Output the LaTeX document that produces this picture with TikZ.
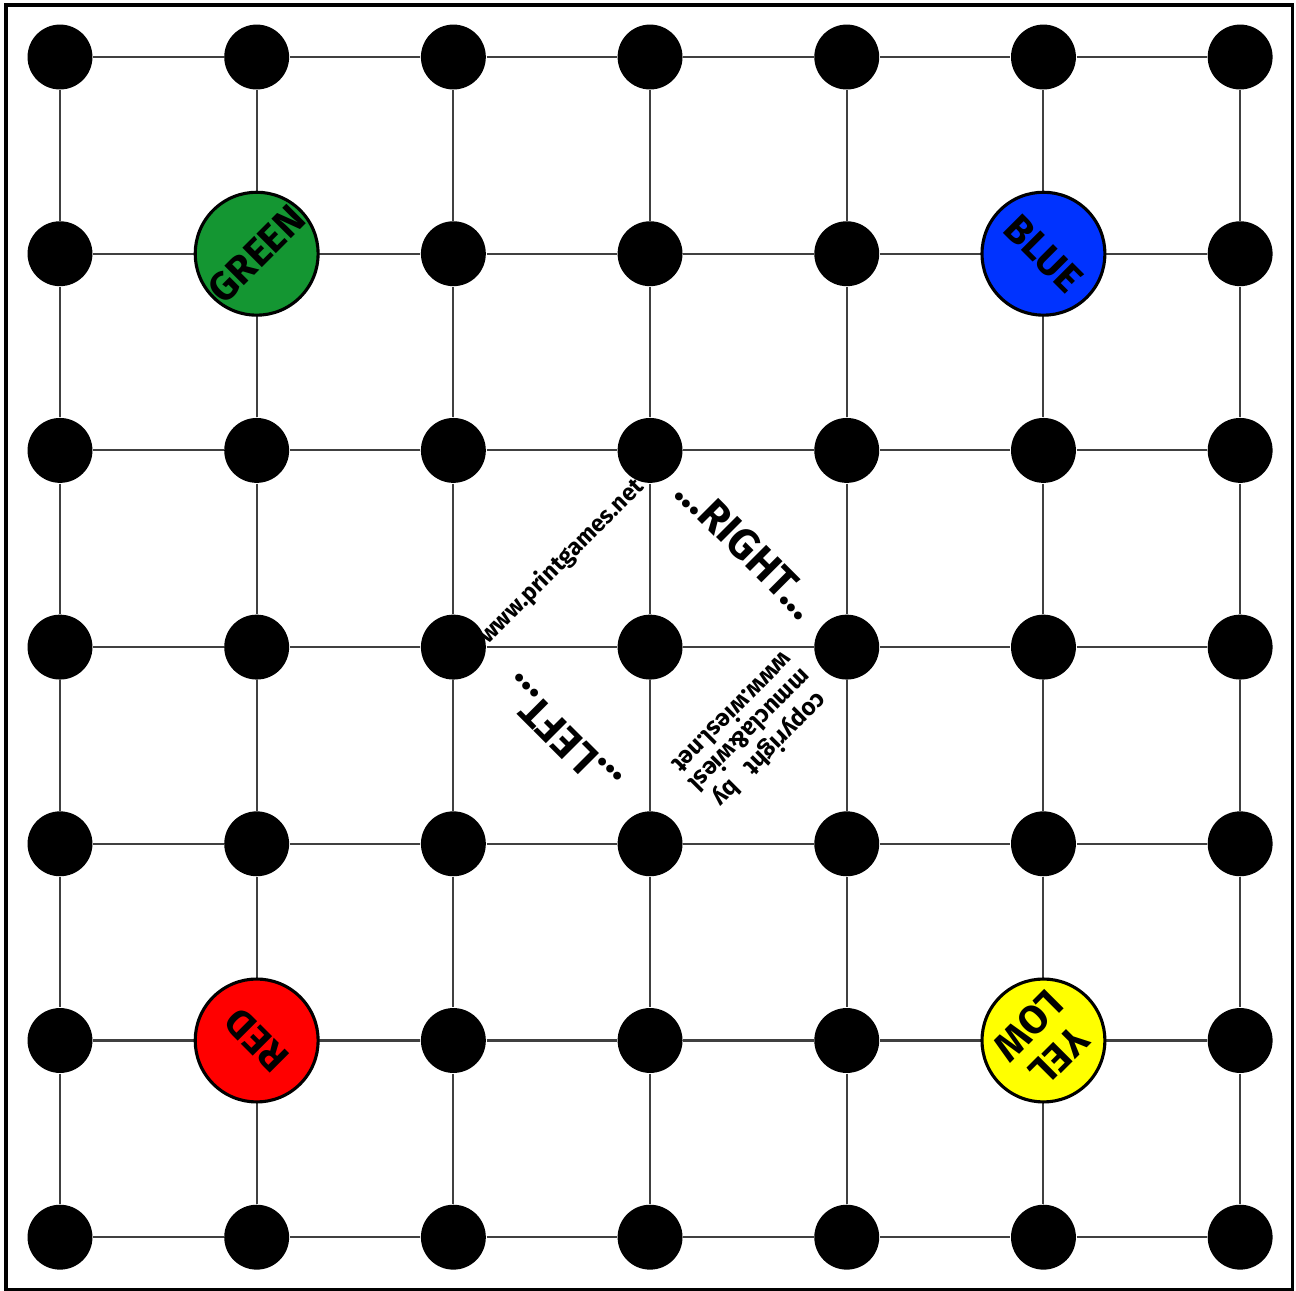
\documentclass[tikz,border=0pt]{standalone}
\usepackage{fontspec}
\newfontfamily\brushfont{Fira Sans}
\usepackage{xcolor}
\definecolor{bdgreen}{RGB}{20,150,50}
\definecolor{bdblue}{RGB}{0,51,255}
\definecolor{bdred}{RGB}{255,0,0}
\definecolor{bdyellow}{RGB}{255,255,0}
\usetikzlibrary{backgrounds}

\begin{document}
\begin{tikzpicture}[
  dot/.style={circle, fill=black, minimum size=0.66cm, inner sep=0pt},
  pawn/.style={circle, draw=black, line width=0.9pt, minimum size=1.25cm,
               inner sep=0pt, align=center,
               font=\brushfont\bfseries\fontsize{11.5}{12.5}\selectfont},
  gline/.style={draw=black!75, line width=0.6pt},
  tag/.style={font=\brushfont\bfseries\fontsize{12.5}{12.5}\selectfont, inner sep=0pt},
  small/.style={font=\brushfont\bfseries\fontsize{6.8}{6.8}\selectfont,
                inner sep=0pt, align=center}
]
\useasboundingbox (-0.61,0.58) rectangle (12.568,-12.547);
\draw[line width=1pt] (-0.55,0.53) rectangle (12.53,-12.53);

% Board dots
\foreach \i in {0,...,6}
  \foreach \j in {0,...,6}
    \node[dot] (d-\i-\j) at (2*\i,-2*\j) {};

% Board lines
\begin{pgfonlayer}{background}
\foreach \i [evaluate=\i as \k using int(\i+1)] in {0,...,5}
  \foreach \j in {0,...,6} {
    \draw[gline] (d-\i-\j) -- (d-\k-\j);
    \draw[gline] (d-\j-\i) -- (d-\j-\k);
  }
\end{pgfonlayer}

% Home circles
\node[pawn, fill=bdgreen,  rotate=45]  (green)  at (d-1-1) {GREEN};
\node[pawn, fill=bdblue,   rotate=-45] (blue)   at (d-5-1) {BLUE};
\node[pawn, fill=bdred,    rotate=135] (red)    at (d-1-5) {RED};
\node[pawn, fill=bdyellow, rotate=225] (yellow) at (d-5-5) {YEL\\LOW};

% Centre texts
\node[small, rotate=45]  (site)  at (5.1,-5.13) {www.printgames.net};
\node[tag,   rotate=-45] (right) at (6.99,-4.99) {...RIGHT...};
\node[tag,   rotate=135] (left)  at (5.09,-6.90) {...LEFT...};
\node[small, rotate=225, font=\brushfont\bfseries\fontsize{7}{7.2}\selectfont]
  (copy) at (7.04,-6.87) {copyright\ \ \ by\\mmucla\&wiesl\\www.wiesl.net};
\end{tikzpicture}
\end{document}
